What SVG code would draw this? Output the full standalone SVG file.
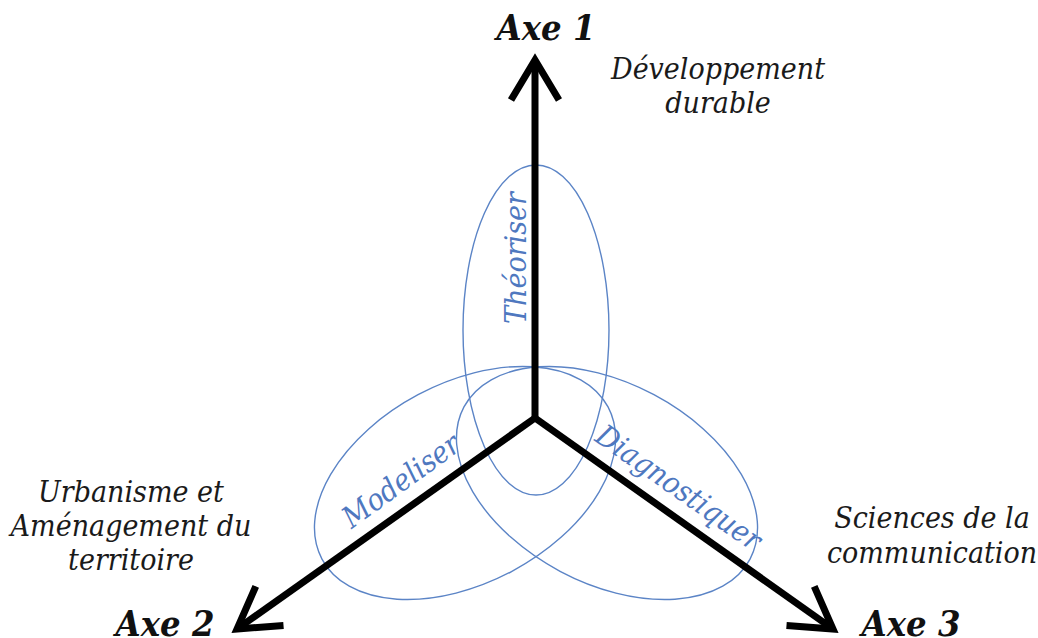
<svg xmlns="http://www.w3.org/2000/svg" width="1038" height="638" viewBox="0 0 1038 638">
<style>
text{font-family:'DejaVu Serif',serif;font-stretch:condensed;font-style:italic;text-anchor:middle}
.lbl{font-size:30px;fill:#1a1a1a}
.axe{font-weight:bold;font-size:36px;fill:#111}
.ell{fill:none;stroke:#5b84c6;stroke-width:1.4}
.etx{font-size:30px;fill:#4f78bf}
.ax{stroke:#000;stroke-width:7;fill:none}
</style>
<defs>
<marker id="arr" markerUnits="userSpaceOnUse" orient="auto" markerWidth="60" markerHeight="60" refX="0" refY="0" viewBox="-50 -30 60 60" overflow="visible">
<path d="M-40,-24 L0,0 L-40,24" fill="none" stroke="#000" stroke-width="7" stroke-linejoin="miter"/>
</marker>
</defs>
<rect width="1038" height="638" fill="#fff"/>
<g id="ellipses">
<g id="theoriser"><ellipse class="ell" cx="536" cy="330" rx="73" ry="165"/>
<text class="etx" transform="translate(526,258) rotate(-90)">Théoriser</text></g>
<g id="modeliser"><ellipse class="ell" cx="465" cy="483" rx="162" ry="100" transform="rotate(-28 465 483)"/>
<text class="etx" transform="translate(407,489) rotate(-36)">Modeliser</text></g>
<g id="diagnostiquer"><ellipse class="ell" cx="607" cy="483" rx="162" ry="100" transform="rotate(28 607 483)"/>
<text class="etx" transform="translate(673,496) rotate(35)">Diagnostiquer</text></g>
</g>
<g id="connectors">
<line class="ax" x1="535" y1="418" x2="535" y2="60" marker-end="url(#arr)"/>
<line class="ax" x1="535" y1="418" x2="237" y2="629" marker-end="url(#arr)"/>
<line class="ax" x1="535" y1="418" x2="833" y2="629" marker-end="url(#arr)"/>
</g>
<g id="axe1"><text class="axe" x="546" y="40">Axe 1</text>
<text class="lbl" x="718" y="79">Développement</text>
<text class="lbl" x="718" y="113">durable</text></g>
<g id="axe2"><text class="axe" x="165" y="636">Axe 2</text>
<text class="lbl" x="131" y="502">Urbanisme et</text>
<text class="lbl" x="131" y="536">Aménagement du</text>
<text class="lbl" x="131" y="570">territoire</text></g>
<g id="axe3"><text class="axe" x="911" y="636">Axe 3</text>
<text class="lbl" x="932" y="528">Sciences de la</text>
<text class="lbl" x="932" y="563">communication</text></g>
</svg>
